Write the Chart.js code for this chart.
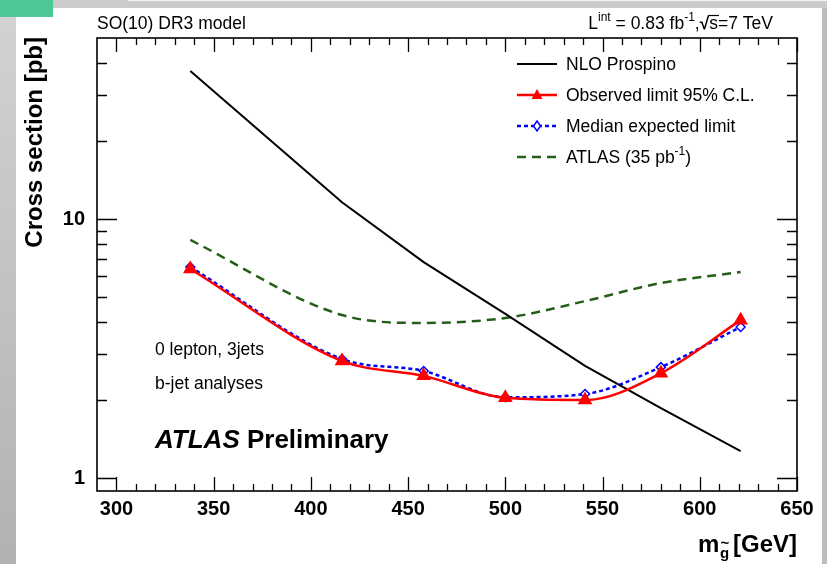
<!DOCTYPE html>
<html>
<head>
<meta charset="utf-8">
<script src="https://cdn.jsdelivr.net/npm/chart.js@4.4.0/dist/chart.umd.min.js"></script>
<style>
  body { margin: 0; background: #fff; }
  #moldura { position: relative; width: 827px; height: 564px; overflow: hidden; }
  #moldura canvas { position: absolute; left: 0; top: 0; }
  .faixa { position: absolute; }
</style>
</head>
<body>
<div id="moldura">
  <div class="faixa" style="left:53px;top:0;width:774px;height:8px;background:#cbcbcb"></div>
  <div class="faixa" style="left:128px;top:0;width:699px;height:1px;background:#f4f4f4"></div>
  <div class="faixa" style="left:0;top:0;width:53px;height:17px;background:#4cc995"></div>
  <div class="faixa" style="left:0;top:17px;width:16px;height:547px;background:linear-gradient(#d2d2d2,#b2b2b2)"></div>
  <div class="faixa" style="left:822px;top:8px;width:5px;height:556px;background:#bdbdbd"></div>
  <canvas id="grafico" width="827" height="564"></canvas>
</div>
<script>
// massas do gluino (GeV) e secções eficazes (pb)
const massas = [338, 416, 458, 500, 541, 580, 621];
const nloProspino = [37.3, 11.6, 6.82, 4.30, 2.71, 1.86, 1.27];
const limiteObservado = [6.41, 2.83, 2.48, 2.04, 2.00, 2.54, 4.07];
const limiteEsperado = [6.53, 2.88, 2.59, 2.05, 2.11, 2.68, 3.83];
const atlas35 = [8.30, 4.26, 3.97, 4.15, 4.82, 5.66, 6.24];

const ticksX = [300, 350, 400, 450, 500, 550, 600, 650];
const ticksY = [1, 10];

const fonte = "'Liberation Sans', Arial, Helvetica, sans-serif";
const verdeEscuro = '#245e17';
const tamTexto = '17.5px ';
const tamSup = '12px ';

function pontos(valores) {
    return massas.map((m, i) => ({ x: m, y: valores[i] }));
}

// marcas de escala para dentro, nos quatro lados (estilo ROOT)
const marcasEixos = {
    id: 'marcasEixos',
    afterDraw(chart) {
        const ctx = chart.ctx;
        const a = chart.chartArea;
        const sx = chart.scales.x, sy = chart.scales.y;
        ctx.save();
        ctx.strokeStyle = '#000';
        ctx.lineWidth = 1.3;
        ctx.beginPath();
        for (let v = 300; v <= 650; v += 10) {
            const px = Math.round(sx.getPixelForValue(v)) + 0.5;
            const len = v % 50 === 0 ? 14 : 7;
            ctx.moveTo(px, a.bottom); ctx.lineTo(px, a.bottom - len);
            ctx.moveTo(px, a.top); ctx.lineTo(px, a.top + len);
        }
        const valoresY = [1, 2, 3, 4, 5, 6, 7, 8, 9, 10, 20, 30, 40];
        valoresY.forEach(v => {
            const py = Math.round(sy.getPixelForValue(v)) + 0.5;
            const len = (v === 1 || v === 10) ? 20 : 10;
            ctx.moveTo(a.left, py); ctx.lineTo(a.left + len, py);
            ctx.moveTo(a.right, py); ctx.lineTo(a.right - len, py);
        });
        ctx.stroke();
        ctx.lineWidth = 1.6;
        ctx.strokeRect(a.left, a.top, a.right - a.left, a.bottom - a.top);
        ctx.restore();
    }
};

function desenhaMarcador(ctx, tipo, x, y, cor) {
    ctx.save();
    ctx.setLineDash([]);
    if (tipo === 'triangle') {
        ctx.fillStyle = cor;
        ctx.beginPath();
        ctx.moveTo(x, y - 6); ctx.lineTo(x + 5.5, y + 4); ctx.lineTo(x - 5.5, y + 4);
        ctx.closePath(); ctx.fill();
    } else if (tipo === 'rectRot') {
        ctx.strokeStyle = cor; ctx.fillStyle = '#fff'; ctx.lineWidth = 1.5;
        ctx.beginPath();
        ctx.moveTo(x, y - 5); ctx.lineTo(x + 3.5, y); ctx.lineTo(x, y + 5); ctx.lineTo(x - 3.5, y);
        ctx.closePath(); ctx.fill(); ctx.stroke();
    }
    ctx.restore();
}

// texto com partes em sobrescrito/subscrito
function textoComposto(ctx, partes, x, y, alinhar) {
    let total = 0;
    partes.forEach(p => { ctx.font = p.f; p.w = ctx.measureText(p.t).width; total += p.w; });
    let cx = alinhar === 'right' ? x - total : x;
    ctx.textAlign = 'left';
    partes.forEach(p => {
        ctx.font = p.f;
        p.x = cx;
        ctx.fillText(p.t, cx, y + (p.dy || 0));
        cx += p.w;
    });
    return partes;
}

const textos = {
    id: 'textos',
    afterDraw(chart) {
        const ctx = chart.ctx;
        ctx.save();
        ctx.fillStyle = '#000';
        ctx.textBaseline = 'alphabetic';

        ctx.font = tamTexto + fonte;
        ctx.textAlign = 'left';
        ctx.fillText('SO(10) DR3 model', 97, 29);

        const p = textoComposto(ctx, [
            { t: 'L', f: tamTexto + fonte },
            { t: 'int', f: tamSup + fonte, dy: -8 },
            { t: ' = 0.83 fb', f: tamTexto + fonte },
            { t: '-1', f: tamSup + fonte, dy: -8 },
            { t: ',', f: tamTexto + fonte },
            { t: '\u221A', f: 'bold ' + tamTexto + fonte },
            { t: 's=7 TeV', f: tamTexto + fonte }
        ], 773, 29, 'right');
        ctx.lineWidth = 1.2;
        ctx.strokeStyle = '#000';
        ctx.font = tamTexto + fonte;
        const sW = ctx.measureText('s').width;
        ctx.beginPath();
        ctx.moveTo(p[5].x + p[5].w - 1, 15.5);
        ctx.lineTo(p[6].x + sW + 1, 15.5);
        ctx.stroke();

        // legenda
        const leg = [
            { nome: 'NLO Prospino', ds: 0, y: 64 },
            { nome: 'Observed limit 95% C.L.', ds: 1, y: 95 },
            { nome: 'Median expected limit', ds: 2, y: 126 },
            { nome: 'ATLAS (35 pb', ds: 3, y: 157, sup: '-1', fim: ')' }
        ];
        leg.forEach(e => {
            const d = chart.data.datasets[e.ds];
            ctx.save();
            ctx.strokeStyle = d.borderColor;
            ctx.lineWidth = d.borderWidth;
            ctx.setLineDash(d.borderDash || []);
            ctx.beginPath();
            ctx.moveTo(517, e.y); ctx.lineTo(557, e.y);
            ctx.stroke();
            ctx.restore();
            if (d.pointRadius > 0) desenhaMarcador(ctx, d.pointStyle, 537, e.y, d.borderColor);
            ctx.fillStyle = '#000';
            if (e.sup) {
                textoComposto(ctx, [
                    { t: e.nome, f: tamTexto + fonte },
                    { t: e.sup, f: tamSup + fonte, dy: -8 },
                    { t: e.fim, f: tamTexto + fonte }
                ], 566, e.y + 6, 'left');
            } else {
                ctx.font = tamTexto + fonte;
                ctx.textAlign = 'left';
                ctx.fillText(e.nome, 566, e.y + 6);
            }
        });

        ctx.font = tamTexto + fonte;
        ctx.textAlign = 'left';
        ctx.fillText('0 lepton, 3jets', 155, 355);
        ctx.fillText('b-jet analyses', 155, 389);

        textoComposto(ctx, [
            { t: 'ATLAS', f: 'italic bold 26px ' + fonte },
            { t: ' Preliminary', f: 'bold 26px ' + fonte }
        ], 155, 448, 'left');

        // título do eixo y
        ctx.save();
        ctx.translate(42, 37);
        ctx.rotate(-Math.PI / 2);
        ctx.font = 'bold 24px ' + fonte;
        ctx.textAlign = 'right';
        ctx.fillText('Cross section [pb]', 0, 0);
        ctx.restore();

        // título do eixo x
        ctx.font = 'bold 24px ' + fonte;
        ctx.textAlign = 'left';
        ctx.fillText('m', 698, 552);
        ctx.font = 'bold 15px ' + fonte;
        ctx.fillText('g', 720, 558);
        ctx.fillText('~', 720.5, 548);
        ctx.font = 'bold 24px ' + fonte;
        ctx.textAlign = 'right';
        ctx.fillText('[GeV]', 797, 552);
        ctx.restore();
    }
};

const ctx = document.getElementById('grafico').getContext('2d');
new Chart(ctx, {
    type: 'line',
    data: {
        datasets: [{
            label: 'NLO Prospino',
            data: pontos(nloProspino),
            borderColor: '#000',
            borderWidth: 2,
            pointRadius: 0,
            tension: 0,
            order: 1
        }, {
            label: 'Observed limit 95% C.L.',
            data: pontos(limiteObservado),
            borderColor: '#ff0000',
            backgroundColor: '#ff0000',
            borderWidth: 2.5,
            pointStyle: 'triangle',
            pointRadius: 6,
            pointBackgroundColor: '#ff0000',
            pointBorderColor: '#ff0000',
            cubicInterpolationMode: 'monotone',
            order: 0
        }, {
            label: 'Median expected limit',
            data: pontos(limiteEsperado),
            borderColor: '#0000ff',
            borderWidth: 2.5,
            borderDash: [4, 3],
            pointStyle: 'rectRot',
            pointRadius: 4.5,
            pointBackgroundColor: '#ffffff',
            pointBorderColor: '#0000ff',
            pointBorderWidth: 1.5,
            cubicInterpolationMode: 'monotone',
            order: 2
        }, {
            label: 'ATLAS (35 pb-1)',
            data: pontos(atlas35),
            borderColor: verdeEscuro,
            borderWidth: 2.5,
            borderDash: [9, 6],
            pointRadius: 0,
            cubicInterpolationMode: 'monotone',
            order: 3
        }]
    },
    options: {
        responsive: false,
        animation: false,
        devicePixelRatio: 1,
        layout: { padding: { left: 0, top: 38, right: 30, bottom: 0 } },
        plugins: { legend: { display: false }, tooltip: { enabled: false } },
        scales: {
            x: {
                type: 'linear',
                min: 290,
                max: 650,
                grid: { display: false, drawTicks: false },
                border: { display: false },
                afterBuildTicks: s => { s.ticks = ticksX.map(v => ({ value: v })); },
                afterFit: s => { s.height = 73; },
                ticks: {
                    padding: 6,
                    maxRotation: 0,
                    color: '#000',
                    font: { family: fonte, size: 20, weight: 'bold' }
                }
            },
            y: {
                type: 'logarithmic',
                min: 0.891,
                max: 50,
                grid: { display: false, drawTicks: false },
                border: { display: false },
                afterBuildTicks: s => { s.ticks = ticksY.map(v => ({ value: v })); },
                afterFit: s => { s.width = 97; },
                ticks: {
                    padding: 12,
                    color: '#000',
                    font: { family: fonte, size: 20, weight: 'bold' },
                    callback: v => String(v)
                }
            }
        }
    },
    plugins: [marcasEixos, textos]
});
</script>
</body>
</html>
